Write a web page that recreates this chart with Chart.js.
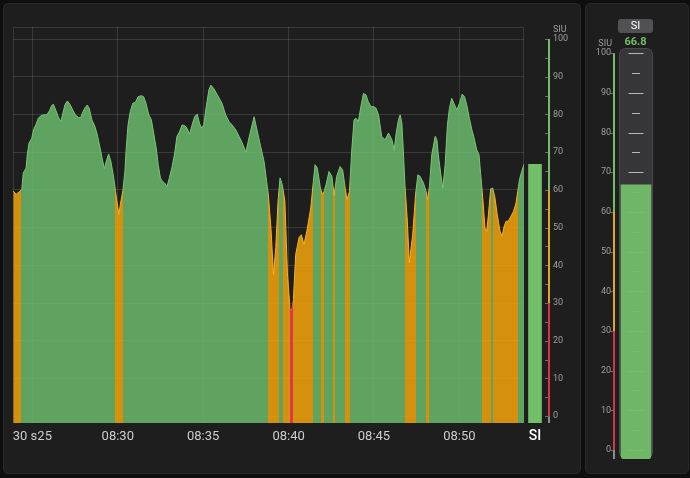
<!DOCTYPE html>
<html>
<head>
<meta charset="utf-8">
<script src="https://cdn.jsdelivr.net/npm/chart.js@4.4.1/dist/chart.umd.min.js"></script>
<style>
  html, body { margin: 0; padding: 0; background: #0e0e0f; }
  body { width: 690px; height: 478px; position: relative; overflow: hidden; font-family: Roboto, Inter, sans-serif; }
  .panel { position: absolute; background: #1e1e1f; border: 1px solid #29292b; border-radius: 5px; box-sizing: border-box; }
  #leftPanel { left: 3px; top: 3px; width: 578px; height: 471px; }
  #rightPanel { left: 585px; top: 3px; width: 104px; height: 471px; }
  canvas { position: absolute; top: 0; }
  #main { left: 0; }
  #siBar { left: 518px; }
  #gauge { left: 585px; }
  #gaugeName { position: absolute; left: 618px; top: 19px; width: 35px; height: 14px; background: #515153; border-radius: 3px;
               color: #fff; font-size: 11px; line-height: 14px; text-align: center; }
  #gaugeValue { position: absolute; left: 610px; top: 35px; width: 51px; text-align: center; color: #73bf69;
                font-size: 11px; font-weight: bold; line-height: 14px; }
</style>
</head>
<body>
<div class="panel" id="leftPanel"></div>
<div class="panel" id="rightPanel"></div>
<canvas id="main" width="580" height="478"></canvas>
<canvas id="siBar" width="62" height="478"></canvas>
<canvas id="gauge" width="103" height="478"></canvas>
<div id="gaugeName"></div>
<div id="gaugeValue"></div>
<script>
// series SI, one reading per timestamp
const seriesName = 'SI';
const unit = 'SIU';
const times = [
  '08:23:53','08:24:03','08:24:14','08:24:23','08:24:28','08:24:38','08:24:42','08:24:48','08:24:58','08:25:04',
  '08:25:13','08:25:21','08:25:30','08:25:39','08:25:51','08:26:00','08:26:08','08:26:14','08:26:22','08:26:31',
  '08:26:40','08:26:47','08:26:55','08:27:03','08:27:12','08:27:22','08:27:31','08:27:42','08:27:50','08:27:57',
  '08:28:05','08:28:13','08:28:20','08:28:29','08:28:40','08:28:48','08:28:58','08:29:05','08:29:13','08:29:21',
  '08:29:28','08:29:36','08:29:46','08:29:52','08:29:58','08:30:04','08:30:09','08:30:18','08:30:25','08:30:29',
  '08:30:36','08:30:44','08:30:53','08:31:02','08:31:11','08:31:23','08:31:31','08:31:39','08:31:49','08:31:58',
  '08:32:06','08:32:15','08:32:22','08:32:30','08:32:38','08:32:45','08:32:53','08:33:01','08:33:11','08:33:20',
  '08:33:28','08:33:36','08:33:46','08:33:55','08:34:03','08:34:12','08:34:21','08:34:30','08:34:39','08:34:47',
  '08:34:54','08:35:02','08:35:10','08:35:20','08:35:27','08:35:37','08:35:50','08:36:06','08:36:19','08:36:31',
  '08:36:42','08:36:55','08:37:06','08:37:17','08:37:30','08:37:41','08:37:59','08:38:09','08:38:22','08:38:34',
  '08:38:43','08:38:49','08:38:58','08:39:07','08:39:15','08:39:23','08:39:30','08:39:38','08:39:47','08:39:56',
  '08:40:05','08:40:10','08:40:17','08:40:25','08:40:37','08:40:45','08:40:54','08:41:04','08:41:18','08:41:27',
  '08:41:33','08:41:41','08:41:51','08:41:57','08:42:03','08:42:12','08:42:22','08:42:32','08:42:40','08:42:49',
  '08:43:01','08:43:10','08:43:19','08:43:25','08:43:34','08:43:42','08:43:50','08:43:57','08:44:05','08:44:14',
  '08:44:23','08:44:32','08:44:40','08:44:49','08:44:58','08:45:07','08:45:16','08:45:27','08:45:39','08:45:51',
  '08:46:03','08:46:11','08:46:18','08:46:26','08:46:32','08:46:38','08:46:43','08:46:49','08:46:57','08:47:04',
  '08:47:16','08:47:26','08:47:34','08:47:42','08:47:54','08:48:03','08:48:08','08:48:15','08:48:23','08:48:35',
  '08:48:41','08:48:46','08:48:55','08:49:02','08:49:10','08:49:18','08:49:25','08:49:33','08:49:41','08:49:51',
  '08:50:00','08:50:10','08:50:18','08:50:26','08:50:35','08:50:44','08:50:52','08:51:01','08:51:09','08:51:15',
  '08:51:22','08:51:30','08:51:36','08:51:42','08:51:50','08:51:57','08:52:05','08:52:13','08:52:23','08:52:30',
  '08:52:37','08:52:44','08:52:52','08:53:01','08:53:10','08:53:19','08:53:25','08:53:31','08:53:39','08:53:47'
];
const siValues = [
  59.7, 58.8, 59.5, 60.1, 64.5, 65.8, 69.3, 72.4, 73.7, 75.9,
  77.4, 79, 79.7, 79.9, 79.9, 81, 82.4, 82.7, 81.2, 79.4,
  78.1, 80.3, 82.7, 83.6, 82.7, 81.2, 79.9, 79.2, 79.2, 80.6,
  81.8, 82.5, 81.6, 78.6, 76.8, 74.6, 71.1, 68.4, 65.6, 68,
  69.5, 67.5, 63.1, 59.6, 56.5, 53.4, 56.1, 59.8, 64.9, 70.2,
  77.2, 80.8, 83, 83.2, 84.7, 85, 84.7, 83, 79.9, 78.6,
  75.1, 71.1, 66.7, 63.1, 62.2, 61.8, 60.9, 63.1, 66.2, 69.8,
  74.2, 75.3, 77.2, 77.1, 76.4, 74.8, 77.2, 79.4, 80.1, 77.7,
  76.4, 77.2, 81.7, 86.5, 87.8, 86.9, 85.2, 83, 79.9, 78.1,
  77.2, 75.9, 74.2, 72.5, 70, 73.8, 79.4, 75.9, 71.5, 67.5,
  62.2, 58.7, 50, 37.6, 44.7, 57, 63.2, 61.4, 57, 38,
  28.5, 27.9, 31, 42.9, 47.4, 48.1, 45.5, 49, 55.2, 62.2,
  66.7, 65.8, 60.9, 59.1, 59.2, 61.5, 64.9, 63.6, 58.5, 63.6,
  66.2, 65.3, 60.4, 57.4, 59.5, 70.6, 78.6, 79, 78.1, 82.1,
  85.6, 85.2, 83.4, 82.1, 82.1, 81.7, 79.9, 74.2, 73.3, 75.1,
  73.3, 70.6, 75.1, 78.6, 79.9, 77.7, 70.6, 60.9, 52, 40.7,
  48.1, 58.7, 64, 63.6, 61.8, 59.6, 57.4, 61, 69.3, 74.2,
  73.3, 69.3, 64, 60.5, 66.7, 77.2, 81.6, 84.3, 82.9, 81.2,
  82.9, 85.4, 84.7, 82.5, 79, 75.9, 73.7, 70.6, 69.3, 64,
  57.9, 49.9, 49, 53.4, 60.3, 60.5, 57.9, 53.4, 49, 47.7,
  50.3, 51.7, 51.7, 53, 54.3, 56.5, 59.6, 62.7, 64.9, 66.8
];
const xTickTimes = ['08:25', '08:30', '08:35', '08:40', '08:45', '08:50'];
const xTickLabels = ['30 s25', '08:30', '08:35', '08:40', '08:45', '08:50'];
const xRange = ['08:23:52', '08:53:47'];
const yTicks = [0, 10, 20, 30, 40, 50, 60, 70, 80, 90, 100];
const yMarks = [0, 5, 10, 15, 20, 25, 30, 35, 40, 45, 50, 55, 60, 65, 70, 75, 80, 85, 90, 95, 100];
const tubeMarks = [0, 5, 10, 15, 20, 25, 30, 35, 40, 45, 50, 55, 60, 65, 70, 75, 80, 85, 90, 95, 100];
const thresholds = [30, 60];
const yRange = [-1.8, 103.2];
const gaugeRange = [-2.27, 101.3];

const fillPalette = { green: 'rgba(105,182,107,0.88)', orange: 'rgba(238,161,12,0.88)', red: 'rgba(247,58,75,0.9)' };
const linePalette = { green: '#7cc474', orange: '#f0b22a', red: '#f2495c' };
const axisPalette = { green: '#73bf69', orange: '#e0a820', red: '#d8334a', below: '#8c8c8c' };
const gridColor = 'rgba(255,255,255,0.12)';

Chart.defaults.font.family = 'Roboto, Inter, sans-serif';
Chart.defaults.animation = false;

const toSec = t => { const p = t.split(':').map(Number); return p[0] * 3600 + p[1] * 60 + (p[2] || 0); };
const points = times.map((t, i) => ({ x: toSec(t), y: siValues[i] }));
const current = siValues[siValues.length - 1];

function levelColor(v, pal) {
  return v < thresholds[0] ? pal.red : v < thresholds[1] ? pal.orange : pal.green;
}

// horizontal gradient with hard stops where the series crosses a threshold
function thresholdGradient(chart, pal) {
  const { ctx, chartArea, scales } = chart;
  if (!chartArea) return pal.green;
  const x = scales.x;
  const left = chartArea.left, width = chartArea.right - chartArea.left;
  const g = ctx.createLinearGradient(left, 0, chartArea.right, 0);
  let color = levelColor(points[0].y, pal);
  g.addColorStop(0, color);
  for (let i = 1; i < points.length; i++) {
    const a = points[i - 1], b = points[i];
    const cross = thresholds.filter(t => (a.y < t) !== (b.y < t))
      .map(t => ({ t, at: a.x + (t - a.y) / (b.y - a.y) * (b.x - a.x) }))
      .sort((p, q) => p.at - q.at);
    for (const c of cross) {
      const pos = Math.min(1, Math.max(0, (x.getPixelForValue(c.at) - left) / width));
      const next = levelColor(b.y > a.y ? c.t + 0.01 : c.t - 0.01, pal);
      g.addColorStop(pos, color);
      g.addColorStop(pos, next);
      color = next;
    }
  }
  g.addColorStop(1, color);
  return g;
}

const fixedTicks = list => scale => { scale.ticks = list.map(v => ({ value: v })); };

const framePlugin = {
  id: 'frame',
  beforeDatasetsDraw(chart) {
    const { ctx, chartArea: a } = chart;
    ctx.save();
    ctx.strokeStyle = gridColor;
    ctx.lineWidth = 1;
    ctx.beginPath();
    ctx.moveTo(a.left + 0.5, a.bottom);
    ctx.lineTo(a.left + 0.5, a.top + 0.5);
    ctx.lineTo(a.right - 0.5, a.top + 0.5);
    ctx.lineTo(a.right - 0.5, a.bottom);
    ctx.stroke();
    ctx.restore();
  }
};

function thresholdAxis(xOf, marks, title) {
  return {
    id: 'thresholdAxis',
    afterDraw(chart) {
      const y = chart.scales.y, ctx = chart.ctx, ax = xOf(chart);
      const bands = [
        [y.min, 0, axisPalette.below],
        [0, thresholds[0], axisPalette.red],
        [thresholds[0], thresholds[1], axisPalette.orange],
        [thresholds[1], 100, axisPalette.green]
      ];
      ctx.save();
      ctx.lineWidth = 2;
      for (const [from, to, col] of bands) {
        ctx.strokeStyle = col;
        ctx.beginPath();
        ctx.moveTo(ax, y.getPixelForValue(from));
        ctx.lineTo(ax, y.getPixelForValue(to));
        ctx.stroke();
      }
      ctx.lineWidth = 1;
      ctx.strokeStyle = '#6f6f6f';
      for (const v of marks) {
        const py = Math.round(y.getPixelForValue(v)) + 0.5;
        ctx.beginPath();
        ctx.moveTo(ax - 4, py);
        ctx.lineTo(ax - 1, py);
        ctx.stroke();
      }
      ctx.fillStyle = '#9e9e9e';
      ctx.font = '9px Roboto, sans-serif';
      ctx.textAlign = title.align;
      ctx.textBaseline = 'middle';
      ctx.fillText(unit, title.x(chart), title.y);
      ctx.restore();
    }
  };
}

// time series with threshold coloured fill
new Chart(document.getElementById('main'), {
  type: 'line',
  data: {
    datasets: [{
      label: seriesName,
      data: points,
      fill: 'start',
      pointRadius: 0,
      borderWidth: 1,
      tension: 0,
      backgroundColor: c => thresholdGradient(c.chart, fillPalette),
      borderColor: c => thresholdGradient(c.chart, linePalette)
    }]
  },
  options: {
    responsive: false,
    layout: { padding: { left: 13, top: 27, right: 56, bottom: 25 } },
    plugins: { legend: { display: false }, tooltip: { enabled: false } },
    scales: {
      x: {
        type: 'linear',
        min: toSec(xRange[0]),
        max: toSec(xRange[1]),
        afterBuildTicks: fixedTicks(xTickTimes.map(toSec)),
        afterFit: s => { s.height = 30; },
        ticks: { callback: (v, i) => xTickLabels[i], color: '#cdcdcd', font: { size: 13 }, padding: 6, maxRotation: 0, autoSkip: false },
        grid: { color: gridColor, drawTicks: false },
        border: { display: false }
      },
      y: {
        min: yRange[0],
        max: yRange[1],
        afterBuildTicks: fixedTicks(yTicks),
        afterFit: s => { s.width = 0; },
        ticks: { display: false },
        grid: { color: gridColor, drawTicks: false },
        border: { display: false }
      }
    }
  },
  plugins: [framePlugin]
});

// current value bar with the value axis
new Chart(document.getElementById('siBar'), {
  type: 'bar',
  data: {
    labels: [seriesName],
    datasets: [{ data: [current], backgroundColor: levelColor(current, axisPalette), barThickness: 13, base: yRange[0] }]
  },
  options: {
    responsive: false,
    layout: { padding: { left: 3, top: 27, right: 0, bottom: 25 } },
    plugins: { legend: { display: false }, tooltip: { enabled: false } },
    scales: {
      x: {
        afterFit: s => { s.height = 30; },
        ticks: { color: '#ffffff', font: { size: 14, weight: '500' }, padding: 5 },
        grid: { display: false, drawTicks: false },
        border: { display: false }
      },
      y: {
        position: 'right',
        min: yRange[0],
        max: yRange[1],
        afterBuildTicks: fixedTicks(yTicks),
        afterFit: s => { s.width = 31; },
        ticks: { color: '#9e9e9e', font: { size: 9 }, padding: 4 },
        grid: { display: false, drawTicks: false },
        border: { display: false }
      }
    }
  },
  plugins: [thresholdAxis(c => c.scales.y.left, yMarks, { x: c => c.scales.y.left + 4, y: 30, align: 'left' })]
});

// bar gauge
const tubePlugin = {
  id: 'tube',
  beforeDatasetsDraw(chart) {
    const { ctx, chartArea: a, scales: { y } } = chart;
    ctx.save();
    ctx.fillStyle = '#363638';
    ctx.strokeStyle = '#4a4a4c';
    ctx.lineWidth = 1;
    ctx.beginPath();
    ctx.roundRect(a.left + 0.5, a.top + 0.5, a.right - a.left - 1, a.bottom - a.top - 1, 6);
    ctx.fill();
    ctx.stroke();
    const cx = (a.left + a.right) / 2;
    ctx.strokeStyle = 'rgba(215,215,215,0.8)';
    for (const v of tubeMarks) {
      const half = v % 10 === 0 ? 7.5 : 4;
      const py = Math.round(y.getPixelForValue(v)) + 0.5;
      ctx.beginPath();
      ctx.moveTo(cx - half, py);
      ctx.lineTo(cx + half, py);
      ctx.stroke();
    }
    ctx.restore();
  }
};

new Chart(document.getElementById('gauge'), {
  type: 'bar',
  data: {
    labels: [seriesName],
    datasets: [{
      data: [current],
      backgroundColor: 'rgba(115,191,105,0.94)',
      barThickness: 30,
      base: gaugeRange[0],
      borderSkipped: false,
      borderRadius: { topLeft: 0, topRight: 0, bottomLeft: 4, bottomRight: 4 }
    }]
  },
  options: {
    responsive: false,
    layout: { padding: { left: 0, top: 48, right: 35, bottom: 19 } },
    plugins: { legend: { display: false }, tooltip: { enabled: false } },
    scales: {
      x: { display: false },
      y: {
        min: gaugeRange[0],
        max: gaugeRange[1],
        afterBuildTicks: fixedTicks(yTicks),
        afterFit: s => { s.width = 34; },
        ticks: { color: '#9e9e9e', font: { size: 9 }, padding: 8 },
        grid: { display: false, drawTicks: false },
        border: { display: false }
      }
    }
  },
  plugins: [tubePlugin, thresholdAxis(c => c.scales.y.right - 5, yTicks, { x: c => c.scales.y.right - 7, y: 44, align: 'right' })]
});

document.getElementById('gaugeName').textContent = seriesName;
document.getElementById('gaugeValue').textContent = current.toFixed(1);
</script>
</body>
</html>
